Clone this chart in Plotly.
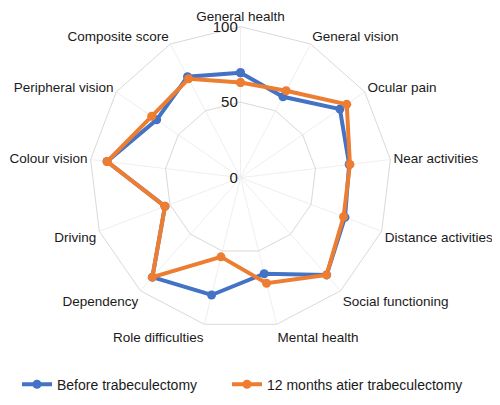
import plotly.graph_objects as go

categories = ["General health", "General vision", "Ocular pain", "Near activities",
              "Distance activities", "Social functioning", "Mental health",
              "Role difficulties", "Dependency", "Driving", "Colour vision",
              "Peripheral vision", "Composite score"]
before = [69.5, 60.5, 80, 72.5, 74, 86, 65.5, 80, 88, 53.5, 89, 67.5, 75.5]
after = [63, 65, 85.5, 73, 73, 86, 72, 54, 88, 53.5, 89, 71.5, 74]
series_names = ["Before trabeculectomy", "12 months atier trabeculectomy"]
colors = ["#4472C4", "#ED7D31"]
radial_ticks = [0, 50, 100]

fig = go.Figure()
for i, (name, vals, col) in enumerate(zip(series_names, [before, after], colors)):
    fig.add_trace(go.Scatterpolar(
        r=vals + vals[:1], theta=categories + categories[:1],
        mode="lines+markers", name=name,
        line=dict(color=col, width=4),
        marker=dict(color=col, size=9),
        legend="legend2" if i == 0 else "legend3",
    ))

leg_common = dict(orientation="h", yanchor="middle", xanchor="left",
                  font=dict(size=14), bgcolor="rgba(0,0,0,0)")
fig.update_layout(
    width=500, height=405,
    margin=dict(l=0, r=0, t=0, b=0),
    paper_bgcolor="white",
    font=dict(family="Liberation Sans", size=13.5, color="#1a1a1a"),
    polar=dict(
        domain=dict(x=[0.163, 0.767], y=[0.208, 0.954]),
        gridshape="linear",
        bgcolor="white",
        radialaxis=dict(range=[0, 100], tickvals=radial_ticks, angle=90,
                        showline=False, gridcolor="#d9d9d9", gridwidth=1,
                        ticks="", tickfont=dict(size=15), side="counterclockwise",
                        tickangle=90),
        angularaxis=dict(rotation=90, direction="clockwise",
                         showline=True, linecolor="#d9d9d9", linewidth=1,
                         gridcolor="#efefef", ticks="", tickfont=dict(size=13.5)),
    ),
    legend2=dict(x=0.018, y=0.07, **leg_common),
    legend3=dict(x=0.438, y=0.07, **leg_common),
)
fig.write_html("out.html")
